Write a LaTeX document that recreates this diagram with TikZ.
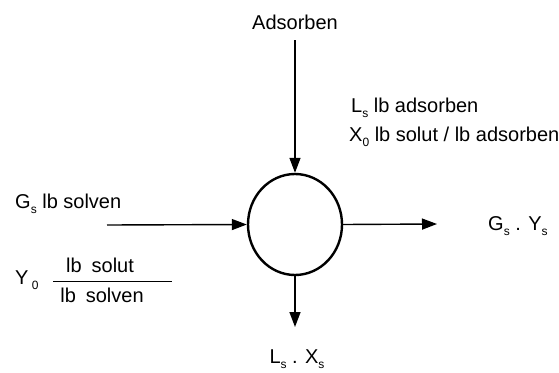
\documentclass[tikz,border=0pt]{standalone}
\usepackage{fontspec}
\setmainfont{Liberation Sans}
\usetikzlibrary{arrows.meta,shapes.geometric}

\newcommand{\lowsub}[1]{\raisebox{-0.55ex}{\fontsize{12}{12}\selectfont #1}}

\begin{document}
\begin{tikzpicture}[x=1pt,y=-1pt,
   txt/.style={inner sep=0pt,font=\fontsize{20}{23}\selectfont},
   vessel/.style={ellipse,draw,line width=2.4pt,minimum width=94pt,
      minimum height=101pt,inner sep=0pt},
   flow/.style={line width=1.4pt,-{Triangle[length=15pt,width=11pt]}},
   bar/.style={line width=1pt}
]
   \useasboundingbox (0,0) rectangle (559,372);

   \node[vessel] (adsorber) at (295,224.5) {};

   \node[txt] (adsorben) at (295,22) {Adsorben};
   \node[txt,anchor=base west] (ls) at (351,112) {L\lowsub{s} lb adsorben};
   \node[txt,anchor=base west] (x0) at (349,141) {X\lowsub{0} lb solut / lb adsorben};
   \node[txt,anchor=base west] (gs) at (15,208) {G\lowsub{s} lb solven};
   \node[txt,anchor=base west] (y0) at (15,284) {Y\,\lowsub{0}};
   \node[txt,anchor=base] (ynum) at (100,272) {lb\enspace solut};
   \node[txt,anchor=base] (yden) at (102,302) {lb\enspace solven};
   \node[txt,anchor=base west] (gout) at (488,230) {G\lowsub{s} . Y\lowsub{s}};
   \node[txt,anchor=base] (lout) at (297,363) {L\lowsub{s} . X\lowsub{s}};

   \coordinate (intop) at (295,40);
   \coordinate (inleft) at (107,225);
   \coordinate (outright) at (437,224);
   \coordinate (outbottom) at (295,327);
   \coordinate (barl) at (53,281);
   \coordinate (barr) at (172,281);

   \draw[flow] (intop) -- (adsorber.north);
   \draw[flow] (inleft) -- (adsorber.west);
   \draw[flow] (adsorber.east) -- (outright);
   \draw[flow] (adsorber.south) -- (outbottom);
   \draw[bar] (barl) -- (barr);
\end{tikzpicture}
\end{document}
